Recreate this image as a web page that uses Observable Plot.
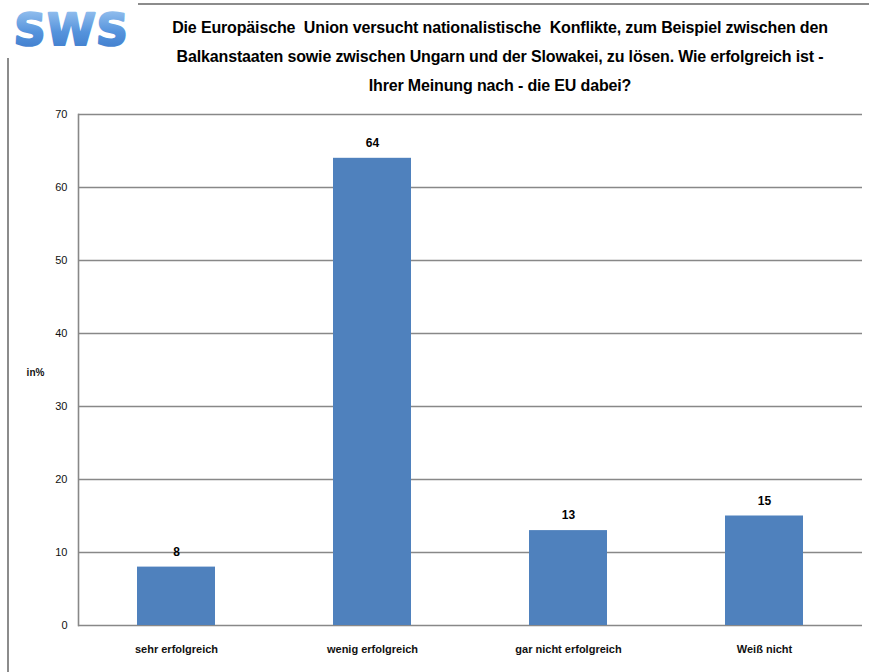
<!DOCTYPE html>
<html>
<head>
<meta charset="utf-8">
<script src="https://cdn.jsdelivr.net/npm/d3@7"></script>
<script src="https://cdn.jsdelivr.net/npm/@observablehq/plot@0.6"></script>
<style>
  html, body { margin: 0; padding: 0; background: #fff; }
  #page { position: relative; width: 869px; height: 672px; overflow: hidden; font-family: "Liberation Sans", Arial, sans-serif; }
  #chart { position: absolute; left: 0; top: 0; }
  .rule-top { position: absolute; left: 138px; top: 3px; width: 731px; height: 2px; background: #8c8c8c; }
  .rule-left { position: absolute; left: 7px; top: 58px; width: 2px; height: 614px; background: #8c8c8c; }
  #logo { position: absolute; left: 0; top: 0; }
  .title {
    position: absolute; left: 150px; width: 700px; top: 13px;
    text-align: center; font-weight: bold; font-size: 16px; line-height: 29px;
    letter-spacing: -0.15px; color: #000; white-space: pre;
  }
</style>
</head>
<body>
<div id="page">
  <div id="chart"></div>
  <div class="rule-top"></div>
  <div class="rule-left"></div>
  <svg id="logo" width="140" height="56">
    <defs>
      <linearGradient id="logoGrad" x1="0" y1="0" x2="0" y2="1">
        <stop offset="0" stop-color="#a4cbf3"></stop>
        <stop offset="0.55" stop-color="#5593dc"></stop>
        <stop offset="1" stop-color="#3b78c9"></stop>
      </linearGradient>
    </defs>
    <text x="71" y="45" text-anchor="middle" font-family="DejaVu Sans, sans-serif" font-weight="bold" font-size="44"
          letter-spacing="1" fill="url(#logoGrad)" stroke="url(#logoGrad)" stroke-width="2.2" stroke-linejoin="round"
          transform="skewX(-3) translate(2,0)">SWS</text>
  </svg>
  <div class="title" id="title"></div>
</div>
<script>
// Survey answers and their shares in percent
const categories = ["sehr erfolgreich", "wenig erfolgreich", "gar nicht erfolgreich", "Weiß nicht"];
const values = [8, 64, 13, 15];
const yTicks = [0, 10, 20, 30, 40, 50, 60, 70];
const titleLines = [
  "Die Europäische  Union versucht nationalistische  Konflikte, zum Beispiel zwischen den",
  "Balkanstaaten sowie zwischen Ungarn und der Slowakei, zu lösen. Wie erfolgreich ist -",
  "Ihrer Meinung nach - die EU dabei?"
];
const yLabel = "in%";

document.getElementById("title").textContent = titleLines.join("\n");

const data = categories.map((c, i) => ({category: c, value: values[i]}));

const chart = Plot.plot({
  width: 869,
  height: 672,
  marginLeft: 78,
  marginRight: 7,
  marginTop: 114,
  marginBottom: 47,
  style: {fontFamily: "'Liberation Sans', Arial, sans-serif", fontSize: "11px", color: "#000", background: "transparent"},
  x: {domain: categories, paddingInner: 0.6, paddingOuter: 0.3, label: null},
  y: {domain: [0, 70], label: null},
  marks: [
    Plot.gridY(yTicks, {stroke: "#888", strokeOpacity: 1, strokeWidth: 1.6}),
    Plot.frame({anchor: "left", stroke: "#888", strokeWidth: 1.6}),
    Plot.barY(data, {x: "category", y: "value", fill: "#4f81bd"}),
    Plot.text(data, {x: "category", y: "value", text: d => String(d.value), dy: -15, fontWeight: "bold", fontSize: 12, fill: "#000"}),
    Plot.axisY(yTicks, {tickSize: 0, tickPadding: 11, fontSize: 11, fill: "#111"}),
    Plot.axisX({tickSize: 0, tickPadding: 20, fontWeight: "bold", fontSize: 11, fill: "#111", letterSpacing: "-0.2px"}),
    Plot.text([yLabel], {frameAnchor: "left", textAnchor: "middle", dx: -43, dy: 3, fontWeight: "bold", fontSize: 10, fill: "#111"})
  ]
});

document.getElementById("chart").appendChild(chart);
</script>
</body>
</html>
